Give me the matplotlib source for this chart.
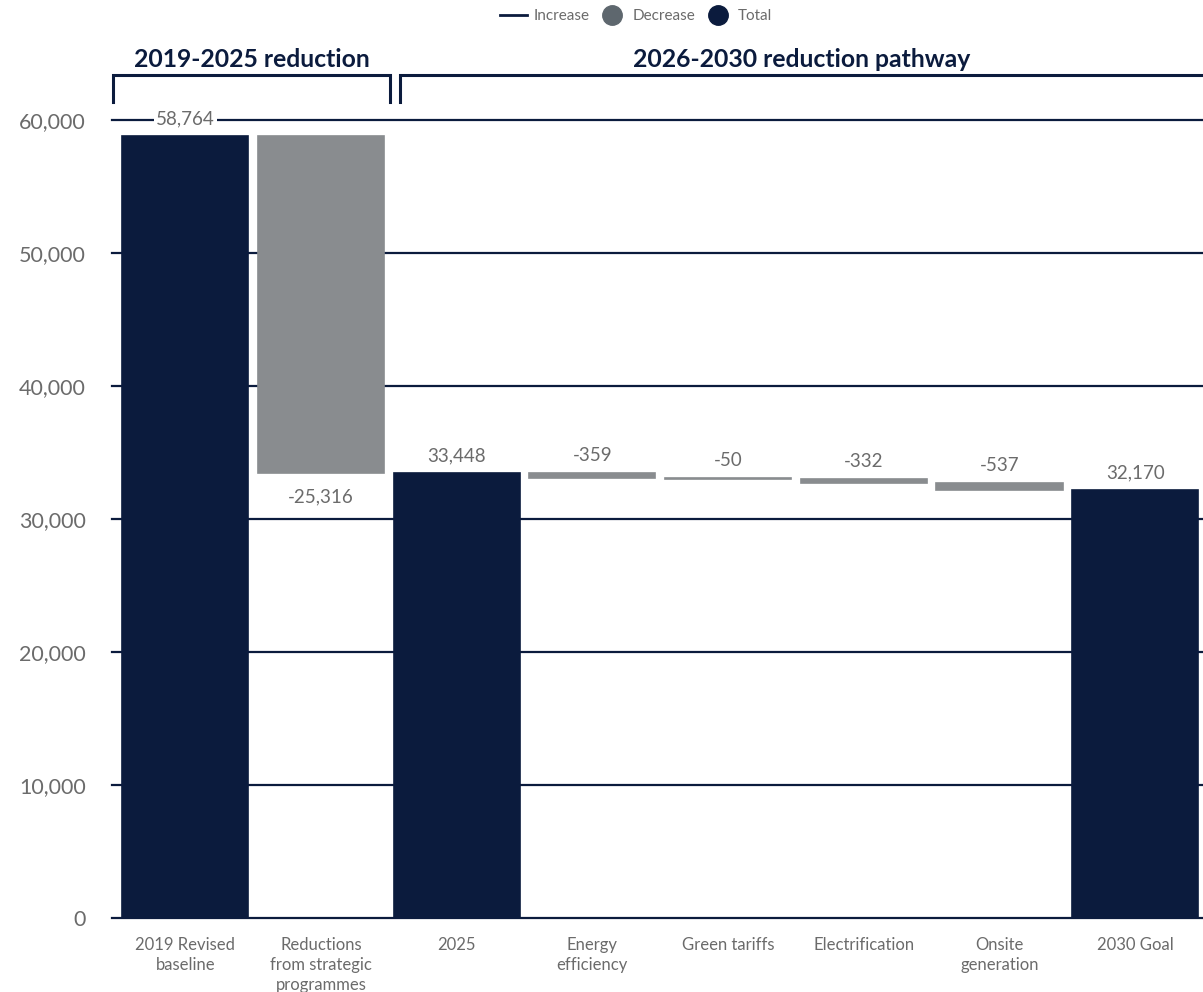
import matplotlib.pyplot as plt
from matplotlib.lines import Line2D
import numpy as np

plt.rcParams['font.family'] = ['Lato', 'DejaVu Sans']

# data
categories = ['2019 Revised\nbaseline', 'Reductions\nfrom strategic\nprogrammes', '2025',
              'Energy\nefficiency', 'Green tariffs', 'Electrification',
              'Onsite\ngeneration', '2030 Goal']
values = [58764, -25316, 33448, -359, -50, -332, -537, 32170]
kinds = ['total', 'decrease', 'total', 'decrease', 'decrease', 'decrease', 'decrease', 'total']
groups = ['2019-2025 reduction', '2026-2030 reduction pathway']
yticks = [0, 10000, 20000, 30000, 40000, 50000, 60000]

navy = '#0b1b3d'
grey = '#898c8f'
legend_grey = '#5e676e'
text_grey = '#6b6b6b'

fig = plt.figure(figsize=(12.03, 9.92), dpi=100)
ax = fig.add_axes([112 / 1203, 1 - 918 / 992, 1 - 112 / 1203, (918 - 120) / 992])

x = np.arange(len(categories))
bottoms = []
heights = []
running = 0
for v, k in zip(values, kinds):
    if k == 'total':
        bottoms.append(0)
        heights.append(v)
        running = v
    else:
        bottoms.append(running + v)
        heights.append(-v)
        running = running + v

colors = [navy if k == 'total' else grey for k in kinds]
ax.bar(x, heights, bottom=bottoms, width=0.93, color=colors,
       edgecolor=colors, linewidth=1.2, zorder=3)

# value labels
for i, (v, k) in enumerate(zip(values, kinds)):
    top = bottoms[i] + heights[i]
    label = f'{v:,}'
    if k == 'decrease' and abs(v) > 1000:
        ax.annotate(label, (x[i], bottoms[i]), xytext=(0, -17), textcoords='offset points',
                    ha='center', va='center', fontsize=13.5, color=text_grey, zorder=5)
    else:
        ax.annotate(label, (x[i], top), xytext=(0, 12.5), textcoords='offset points',
                    ha='center', va='center', fontsize=13.5, color=text_grey, zorder=5,
                    bbox=dict(boxstyle='square,pad=0.1', fc='white', ec='none'))

ax.set_xlim(-0.54, 7.5)
ax.set_ylim(0, 60000)
ax.set_yticks(yticks)
ax.set_yticklabels([f'{t:,}' for t in yticks])
ax.set_xticks(x)
ax.set_xticklabels(categories, fontsize=12, color=text_grey, linespacing=1.28)
ax.tick_params(axis='y', length=0, labelsize=15.5, labelcolor=text_grey, pad=19)
ax.tick_params(axis='x', length=0, pad=14)
for s in ax.spines.values():
    s.set_visible(False)
for t in yticks:
    ax.axhline(t, color=navy, lw=1.6, zorder=1, clip_on=False)

# group brackets
brackets = [(-0.53, 1.51), (1.58, 7.7)]
for (a, b), name in zip(brackets, groups):
    ax.plot([a, a, b, b], [61350, 63380, 63380, 61350], color=navy, lw=2.2,
            clip_on=False, solid_joinstyle='miter')
    ax.text((a + b) / 2 if b < 7.5 else 4.54, 64550, name, ha='center', va='center',
            fontsize=17.8, fontweight='bold', color=navy)

# legend
handles = [Line2D([0], [0], color=navy, lw=2),
           Line2D([0], [0], marker='o', color='none', markerfacecolor=legend_grey,
                  markeredgecolor=legend_grey, markersize=14),
           Line2D([0], [0], marker='o', color='none', markerfacecolor=navy,
                  markeredgecolor=navy, markersize=14)]
fig.legend(handles, ['Increase', 'Decrease', 'Total'], loc='center',
           bbox_to_anchor=(636 / 1203, 1 - 16 / 992), ncol=3, frameon=False,
           fontsize=11, labelcolor=text_grey, handlelength=1.8,
           handletextpad=0.4, columnspacing=0.6)

fig.savefig('out.png', dpi=100)
